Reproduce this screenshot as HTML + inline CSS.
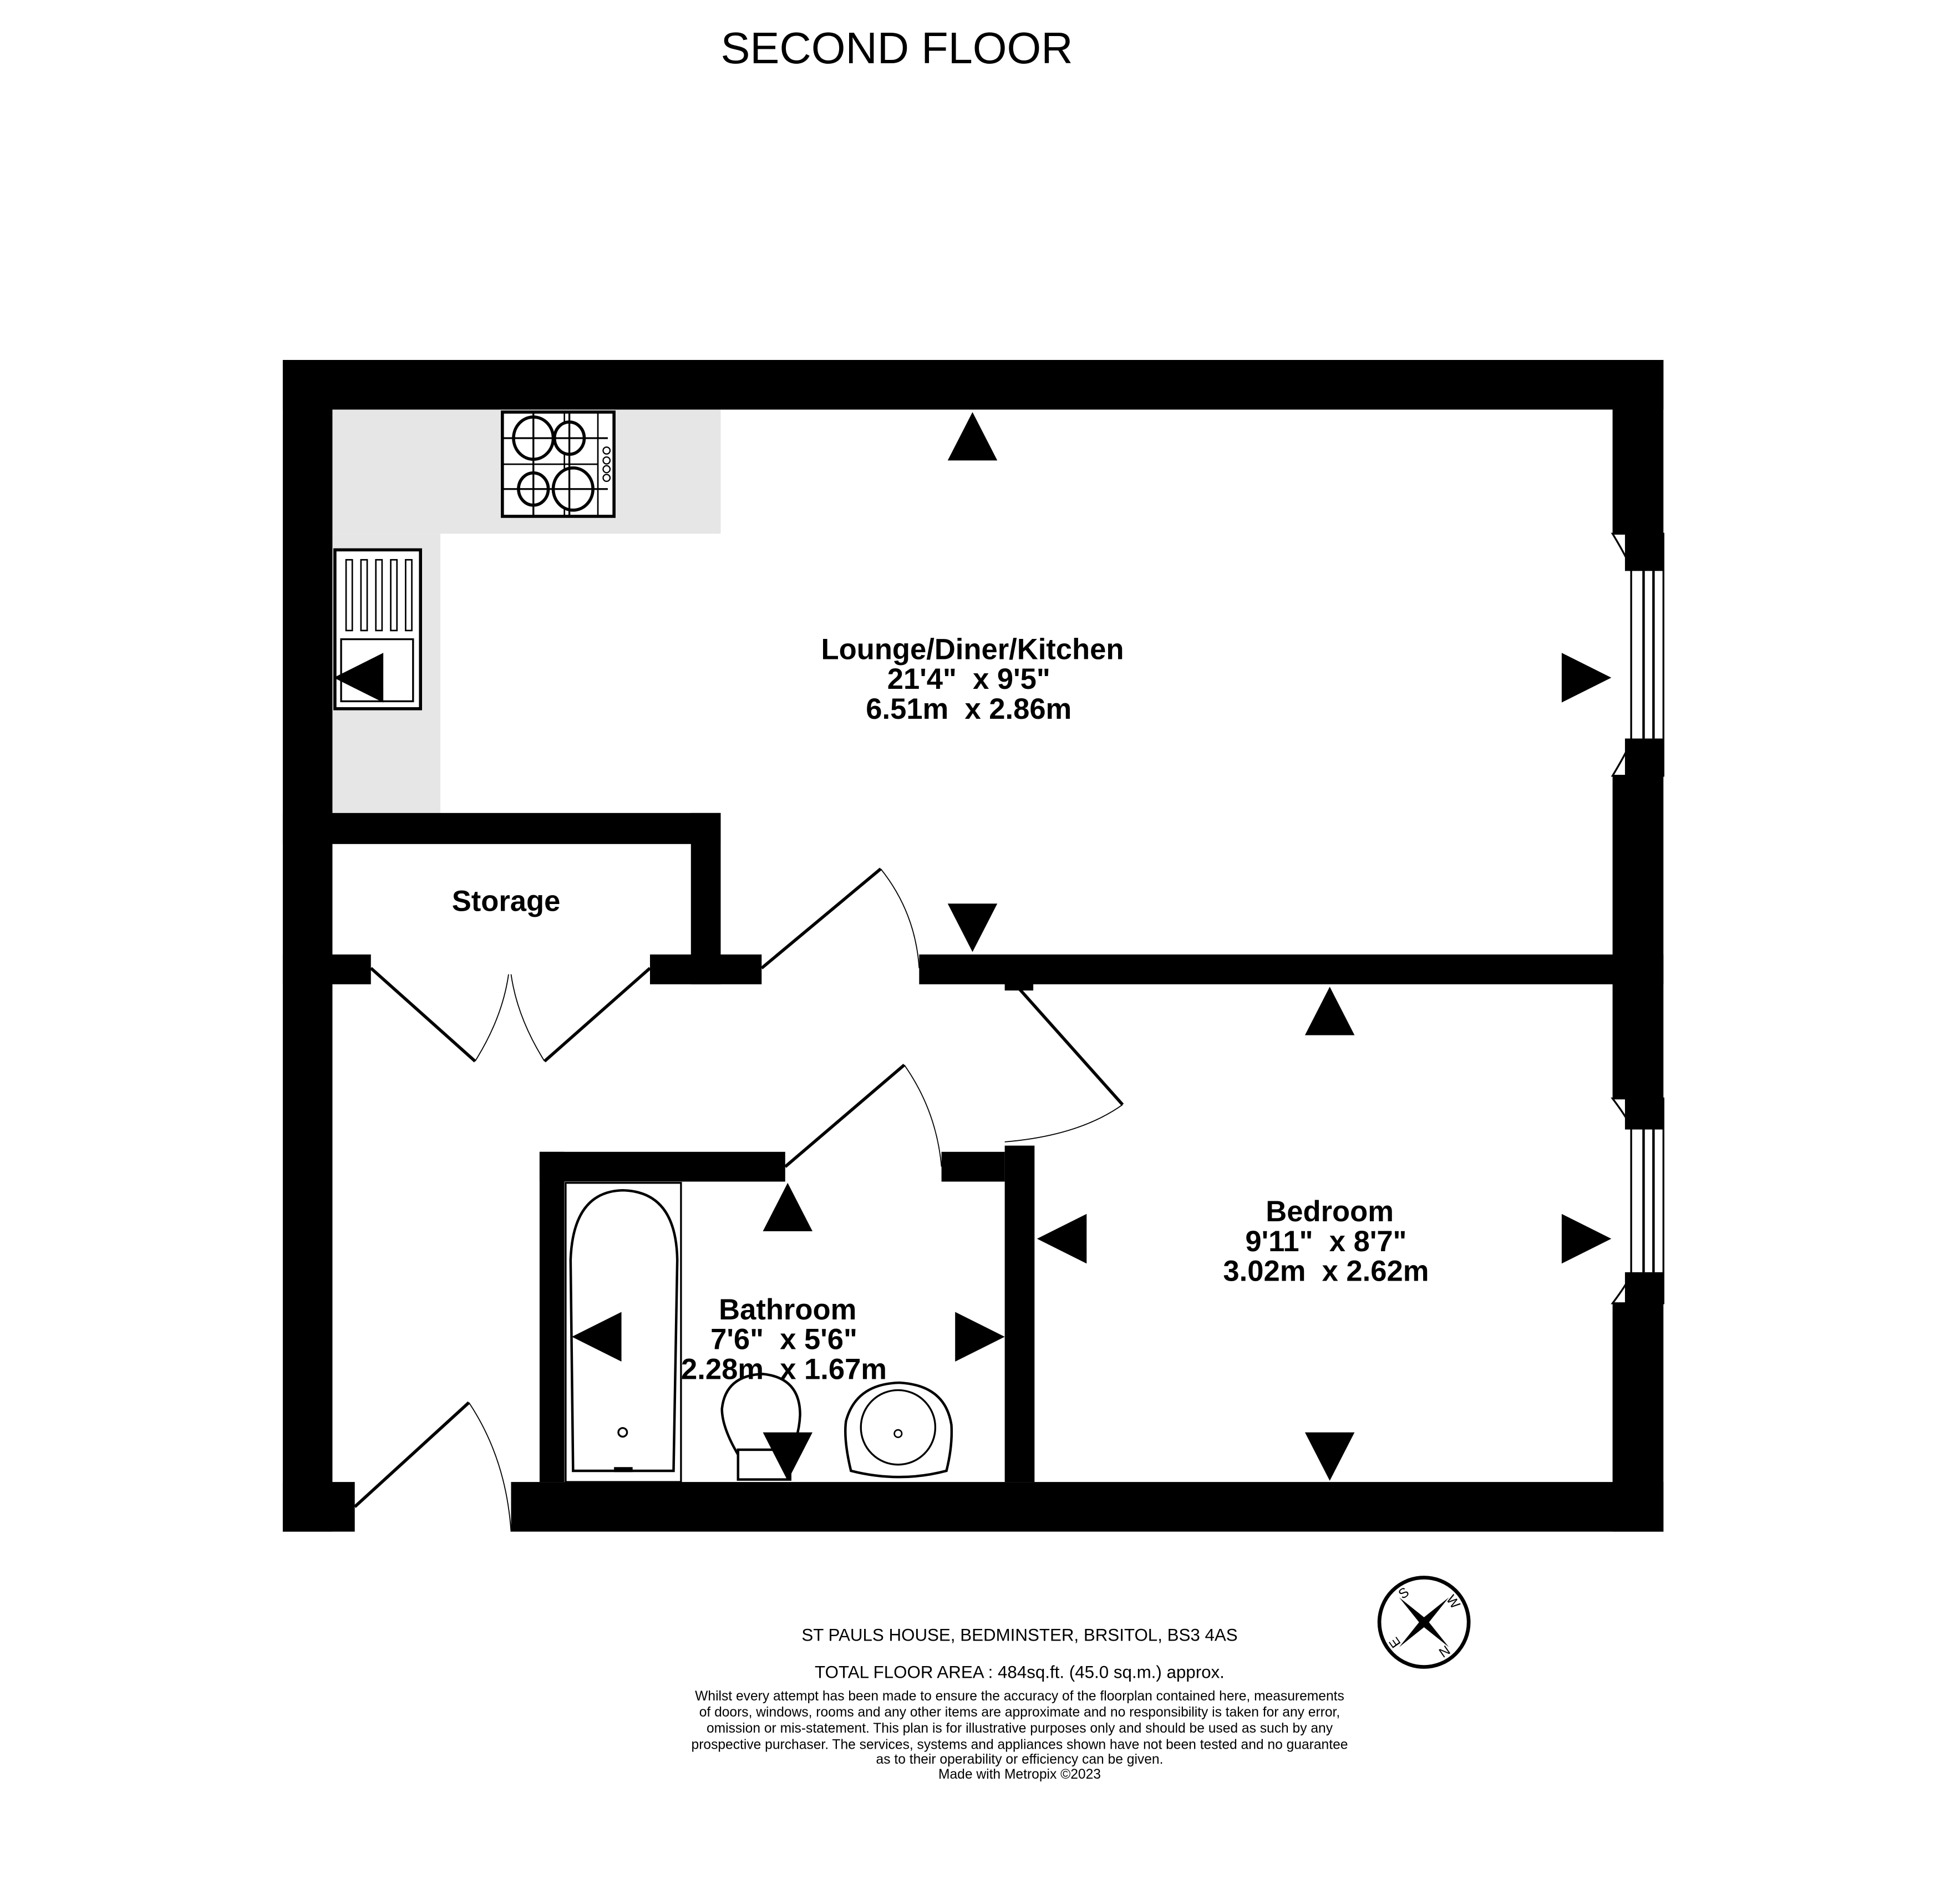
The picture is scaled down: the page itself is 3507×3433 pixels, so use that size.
<!DOCTYPE html>
<html><head><meta charset="utf-8"><style>html,body{margin:0;padding:0;background:#fff}svg{display:block}</style></head><body>
<svg width="3507" height="3433" viewBox="0 0 1568 1534" preserveAspectRatio="none" xmlns="http://www.w3.org/2000/svg" font-family="Liberation Sans, sans-serif">
<rect width="1568" height="1534" fill="#fff"/>
<text x="723" y="51" font-size="35.5" text-anchor="middle">SECOND FLOOR</text>
<rect x="268" y="330" width="313" height="100" fill="#e6e6e6"/>
<rect x="268" y="430" width="87" height="225" fill="#e6e6e6"/>
<g fill="#000">
<rect x="228" y="290" width="1113" height="40"/>
<rect x="228" y="290" width="40" height="944"/>
<rect x="1300" y="290" width="41" height="140"/>
<rect x="1300" y="625" width="41" height="260"/>
<rect x="1300" y="1050" width="41" height="184"/>
<rect x="412" y="1194" width="929" height="40"/>
<rect x="228" y="1194" width="58" height="40"/>
<rect x="228" y="655" width="353" height="25"/>
<rect x="557" y="655" width="24" height="138"/>
<rect x="228" y="769" width="71" height="24"/>
<rect x="524" y="769" width="90" height="24"/>
<rect x="741" y="769" width="600" height="24"/>
<rect x="810" y="790" width="23" height="8"/>
<rect x="435" y="928" width="198" height="24"/>
<rect x="759" y="928" width="51" height="24"/>
<rect x="810" y="923" width="24" height="271"/>
<rect x="435" y="928" width="20" height="266"/>
</g>
<g fill="#fff" stroke="#000" stroke-width="1.5">
<path d="M1300 430 L1341 430 L1341 625 L1300 625 Q1315 600 1315 595 L1315 460 Q1315 455 1300 430Z"/>
<path d="M1300 885 L1341 885 L1341 1050 L1300 1050 Q1315 1030 1315 1025 L1315 910 Q1315 905 1300 885Z"/>
</g>
<g fill="#000"><rect x="1310" y="430" width="31" height="30"/><rect x="1310" y="595" width="31" height="30"/><rect x="1310" y="885" width="31" height="25"/><rect x="1310" y="1025" width="31" height="25"/></g>
<g stroke="#000" stroke-width="2"><line x1="1325" y1="460" x2="1325" y2="595"/><line x1="1333" y1="460" x2="1333" y2="595"/><line x1="1325" y1="910" x2="1325" y2="1025"/><line x1="1333" y1="910" x2="1333" y2="1025"/></g>
<g stroke="#000" stroke-width="2.5" fill="none">
<line x1="614" y1="780" x2="710" y2="700"/>
<line x1="299" y1="780" x2="383" y2="855"/>
<line x1="524" y1="780" x2="439" y2="855"/>
<line x1="822" y1="797" x2="905" y2="890"/>
<line x1="633" y1="940" x2="729" y2="858"/>
<line x1="286" y1="1214" x2="378" y2="1130"/>
</g>
<g stroke="#000" stroke-width="0.8" fill="none">
<path d="M710 700 Q738 735 741 780"/>
<path d="M383 855 Q405 820 410 785"/>
<path d="M439 855 Q417 820 412 785"/>
<path d="M905 890 Q870 915 810 920"/>
<path d="M729 858 Q755 895 759 940"/>
<path d="M378 1130 Q408 1175 412 1234"/>
</g>
<g stroke="#000" fill="#fff">
<rect x="405" y="332" width="90" height="84" stroke-width="2.5"/>
<g stroke-width="1.2"><line x1="455" y1="333" x2="455" y2="416"/><line x1="405" y1="374" x2="482" y2="374"/><line x1="482" y1="333" x2="482" y2="416"/></g>
<g stroke-width="2.5"><ellipse cx="430" cy="353" rx="16" ry="17"/><ellipse cx="459" cy="353" rx="12" ry="13"/><ellipse cx="430" cy="394" rx="12" ry="13"/><ellipse cx="462" cy="394" rx="16" ry="17"/></g>
<g stroke-width="1.5"><line x1="405" y1="353" x2="490" y2="353"/><line x1="405" y1="394" x2="490" y2="394"/><line x1="430" y1="333" x2="430" y2="416"/><line x1="459" y1="333" x2="459" y2="416"/></g>
<g stroke-width="1"><circle cx="489" cy="363" r="2.8"/><circle cx="489" cy="371" r="2.8"/><circle cx="489" cy="378" r="2.8"/><circle cx="489" cy="385" r="2.8"/></g>
</g>
<g stroke="#000" fill="#fff">
<rect x="270" y="443" width="69" height="128" stroke-width="2.5"/>
<rect x="275" y="515" width="58" height="50" stroke-width="1.5"/>
<g stroke-width="1.2"><rect x="279" y="451" width="5" height="57"/><rect x="291" y="451" width="5" height="57"/><rect x="303" y="451" width="5" height="57"/><rect x="315" y="451" width="5" height="57"/><rect x="327" y="451" width="5" height="57"/></g>
</g>
<g stroke="#000" fill="none">
<rect x="456" y="953" width="93" height="241" stroke-width="1.5"/>
<path d="M462 1185 L460 1015 Q462 960 502 959 Q545 960 546 1015 L543 1185 Z" stroke-width="2"/>
<circle cx="502" cy="1154" r="3.5" stroke-width="1.5"/>
<path d="M495 1184 L510 1184" stroke-width="4"/>
</g>
<g stroke="#000" fill="#fff" stroke-width="2">
<path d="M595 1172 Q582 1150 582 1135 Q585 1108 615 1107 Q645 1110 645 1140 Q644 1160 635 1172 Z"/>
<rect x="595" y="1168" width="42" height="24"/>
</g>
<g stroke="#000" fill="#fff" stroke-width="2">
<path d="M686 1185 Q680 1160 682 1145 Q690 1115 725 1114 Q762 1116 767 1148 Q768 1165 763 1185 Q725 1195 686 1185Z"/>
<circle cx="724" cy="1150" r="30" stroke-width="1.5"/>
<circle cx="724" cy="1155" r="3" stroke-width="1.2"/>
</g>
<g fill="#000">
<polygon points="784,332 764,371 804,371"/>
<polygon points="784,767 764,728 804,728"/>
<polygon points="1299,546 1259,526 1259,566"/>
<polygon points="269,546 309,526 309,566"/>
<polygon points="1072,795 1052,834 1092,834"/>
<polygon points="1072,1193 1052,1154 1092,1154"/>
<polygon points="836,998 876,978 876,1018"/>
<polygon points="1299,998 1259,978 1259,1018"/>
<polygon points="635,953 615,992 655,992"/>
<polygon points="635,1193 615,1154 655,1154"/>
<polygon points="461,1077 501,1057 501,1097"/>
<polygon points="810,1077 770,1057 770,1097"/>
</g>
<g font-weight="bold" font-size="23.5" text-anchor="middle">
<text x="784" y="531">Lounge/Diner/Kitchen</text>
<text x="781" y="555">21'4"&#160;&#160;x 9'5"</text>
<text x="781" y="579">6.51m&#160;&#160;x 2.86m</text>
<text x="408" y="734">Storage</text>
<text x="1072" y="984">Bedroom</text>
<text x="1069" y="1008">9'11"&#160;&#160;x 8'7"</text>
<text x="1069" y="1032">3.02m&#160;&#160;x 2.62m</text>
<text x="635" y="1063">Bathroom</text>
<text x="632" y="1087">7'6"&#160;&#160;x 5'6"</text>
<text x="632" y="1111">2.28m&#160;&#160;x 1.67m</text>
</g>
<g transform="translate(1148,1307)">
<circle r="36" fill="none" stroke="#000" stroke-width="3"/>
<polygon points="0,-4 20,-20 4,0 20,20 0,4 -20,20 -4,0 -20,-20" fill="#000"/>
<g font-size="11" text-anchor="middle">
<text transform="rotate(-35) translate(0,-25)">S</text>
<text transform="rotate(55) translate(0,-25)">W</text>
<text transform="rotate(145) translate(0,-25)">N</text>
<text transform="rotate(235) translate(0,-25)">E</text>
</g>
</g>
<g text-anchor="middle" fill="#000">
<text x="822" y="1322" font-size="14">ST PAULS HOUSE, BEDMINSTER, BRSITOL, BS3 4AS</text>
<text x="822" y="1352" font-size="14">TOTAL FLOOR AREA : 484sq.ft. (45.0 sq.m.) approx.</text>
<g font-size="11">
<text x="822" y="1370">Whilst every attempt has been made to ensure the accuracy of the floorplan contained here, measurements</text>
<text x="822" y="1383">of doors, windows, rooms and any other items are approximate and no responsibility is taken for any error,</text>
<text x="822" y="1396">omission or mis-statement. This plan is for illustrative purposes only and should be used as such by any</text>
<text x="822" y="1409">prospective purchaser. The services, systems and appliances shown have not been tested and no guarantee</text>
<text x="822" y="1421">as to their operability or efficiency can be given.</text>
<text x="822" y="1433">Made with Metropix ©2023</text>
</g>
</g>
</svg>
</body></html>
